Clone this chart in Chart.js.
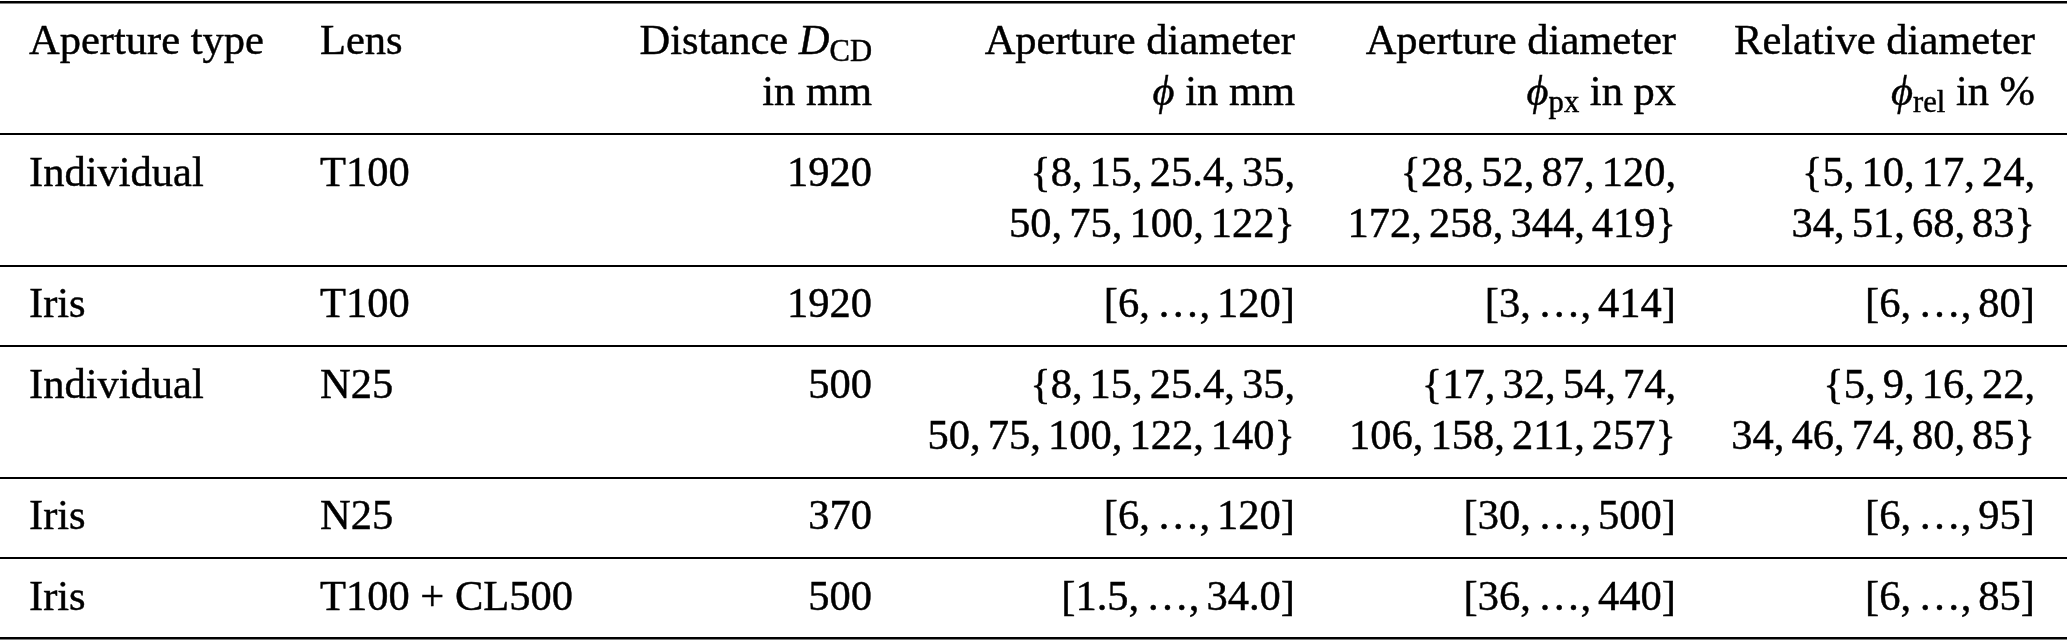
<!DOCTYPE html>
<html>
<head>
<meta charset="utf-8">
<script src="https://cdn.jsdelivr.net/npm/chart.js@4.4.1/dist/chart.umd.min.js"></script>
<style>
  html, body { margin: 0; padding: 0; background: #ffffff; }
  #wrap { width: 2067px; height: 640px; position: relative; }
</style>
</head>
<body>
<div id="wrap"><canvas id="c"></canvas></div>
<script>
// ---------------- data ----------------
const columnHeaders = [
  ["Aperture type"],
  ["Lens"],
  ["Distance *D*_{CD}", "in mm"],
  ["Aperture diameter", "*ϕ* in mm"],
  ["Aperture diameter", "*ϕ*_{px} in px"],
  ["Relative diameter", "*ϕ*_{rel} in %"]
];
const apertureTypes = ["Individual", "Iris", "Individual", "Iris", "Iris"];
const lenses = ["T100", "T100", "N25", "N25", "T100 + CL500"];
const distancesMm = [1920, 1920, 500, 370, 500];
const diameterMm = [
  ["8", "15", "25.4", "35", "50", "75", "100", "122"],
  ["6", "120"],
  ["8", "15", "25.4", "35", "50", "75", "100", "122", "140"],
  ["6", "120"],
  ["1.5", "34.0"]
];
const diameterPx = [
  [28, 52, 87, 120, 172, 258, 344, 419],
  [3, 414],
  [17, 32, 54, 74, 106, 158, 211, 257],
  [30, 500],
  [36, 440]
];
const diameterRel = [
  [5, 10, 17, 24, 34, 51, 68, 83],
  [6, 80],
  [5, 9, 16, 22, 34, 46, 74, 80, 85],
  [6, 95],
  [6, 85]
];

// ---------------- layout / style ----------------
const FONT = '"Liberation Serif", "Times New Roman", serif';
const FS = 42.5;
const SUB_SCALE = 0.72, SUB_DROP = 0.16;
const PAD_TOP = 12, PAD_BOTTOM = 17.5, LINE_H = 51;
const COL_ANCHOR = [29, 320, 872, 1295, 1676, 2035];
const COL_ALIGN = ['left', 'left', 'right', 'right', 'right', 'right'];
const TS = '\u2009';   // thin (math) space marker
const TS_W = FS / 6;   // drawn width of a thin space
const PER_LINE = 4;    // set items on first line

function fmtSet(vals) {
  const a = vals.slice(0, PER_LINE).map(String), b = vals.slice(PER_LINE).map(String);
  return ['{' + a.join(',' + TS) + ',', b.join(',' + TS) + '}'];
}
function fmtRange(vals) {
  return ['[' + vals[0] + ',' + TS + '…' + ',' + TS + vals[vals.length - 1] + ']'];
}
function fmtVals(type, vals) { return type === 'Iris' ? fmtRange(vals) : fmtSet(vals); }

// table rows built from the data arrays
const bodyRows = apertureTypes.map((t, i) => [
  [t], [lenses[i]], [String(distancesMm[i])],
  fmtVals(t, diameterMm[i]), fmtVals(t, diameterPx[i]), fmtVals(t, diameterRel[i])
]);
const allRows = [columnHeaders].concat(bodyRows);
const rowLines = allRows.map(r => Math.max(...r.map(c => c.length)));
const rowTops = [];
let acc = 0;
rowLines.forEach(n => { rowTops.push(acc); acc += PAD_TOP + PAD_BOTTOM + n * LINE_H; });
const TOTAL = acc;
const ruleValues = rowTops.concat([TOTAL]);

function parseRich(s) {
  const out = []; const re = /\*([^*]+)\*|_\{([^}]+)\}/g; let last = 0, m;
  while ((m = re.exec(s))) {
    if (m.index > last) out.push({ t: s.slice(last, m.index), k: 'n' });
    if (m[1] !== undefined) out.push({ t: m[1], k: 'i' }); else out.push({ t: m[2], k: 's' });
    last = re.lastIndex;
  }
  if (last < s.length) out.push({ t: s.slice(last), k: 'n' });
  return out;
}
function fontFor(k) {
  if (k === 'i') return 'italic ' + FS + 'px ' + FONT;
  if (k === 's') return (FS * SUB_SCALE) + 'px ' + FONT;
  return FS + 'px ' + FONT;
}
function measureRun(ctx, r) {
  ctx.font = fontFor(r.k);
  const parts = r.t.split(TS);
  let w = 0;
  parts.forEach((p, i) => { w += ctx.measureText(p).width; if (i < parts.length - 1) w += TS_W; });
  return w;
}
function drawRich(ctx, s, x, y, align) {
  const runs = parseRich(s);
  let w = 0;
  runs.forEach(r => { r.w = measureRun(ctx, r); w += r.w; });
  let cx = align === 'right' ? x - w : x;
  runs.forEach(r => {
    ctx.font = fontFor(r.k);
    const yy = r.k === 's' ? y + FS * SUB_DROP : y;
    const parts = r.t.split(TS);
    parts.forEach((p, i) => {
      ctx.fillText(p, cx, yy);
      ctx.strokeText(p, cx, yy);
      cx += ctx.measureText(p).width;
      if (i < parts.length - 1) cx += TS_W;
    });
  });
}

const tablePlugin = {
  id: 'tableText',
  afterDraw(chart) {
    const ctx = chart.ctx, xs = chart.scales.x, ys = chart.scales.y;
    ctx.save();
    ctx.fillStyle = '#000';
    ctx.strokeStyle = '#000';
    ctx.lineWidth = 0.45;
    ctx.textBaseline = 'alphabetic';
    allRows.forEach((row, ri) => {
      row.forEach((cell, ci) => {
        cell.forEach((line, li) => {
          const mid = rowTops[ri] + PAD_TOP + LINE_H * (li + 0.5);
          const py = ys.getPixelForValue(mid) + FS * 0.33;
          const px = xs.getPixelForValue(COL_ANCHOR[ci]);
          drawRich(ctx, line, px, py, COL_ALIGN[ci]);
        });
      });
    });
    ctx.restore();
  }
};

new Chart(document.getElementById('c'), {
  type: 'scatter',
  data: { datasets: [] },
  options: {
    responsive: true,
    maintainAspectRatio: false,
    animation: false,
    layout: { padding: { top: 2.5, bottom: 1.5, left: 0, right: 0 } },
    plugins: { legend: { display: false }, tooltip: { enabled: false } },
    scales: {
      x: { type: 'linear', min: 0, max: 2067, display: false },
      y: {
        type: 'linear', reverse: true, min: 0, max: TOTAL, display: true,
        ticks: { display: false },
        border: { display: false },
        afterBuildTicks: s => { s.ticks = ruleValues.map(v => ({ value: v })); },
        grid: {
          drawTicks: false,
          color: '#000',
          lineWidth: c => (c.index === 0 || c.index === ruleValues.length - 1) ? 2.6 : 1.9
        }
      }
    }
  },
  plugins: [tablePlugin]
});
</script>
</body>
</html>
